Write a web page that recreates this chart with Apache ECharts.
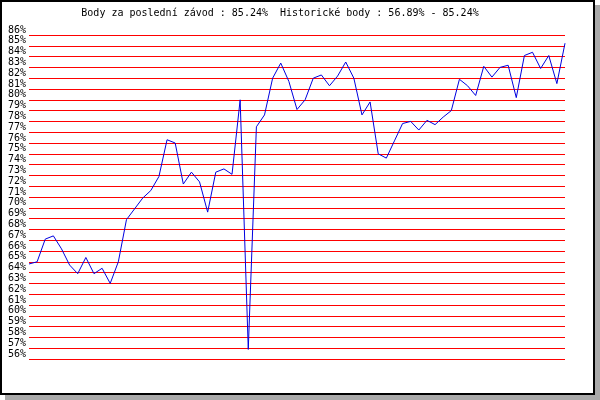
<!DOCTYPE html>
<html>
<head>
<meta charset="utf-8">
<script src="https://cdn.jsdelivr.net/npm/echarts@6/dist/echarts.min.js"></script>
<style>
html,body{margin:0;padding:0;background:#fff;}
#chart{width:600px;height:400px;}
</style>
</head>
<body>
<div id="chart"></div>
<script>
var titleText = 'Body za poslední závod : 85.24%  Historické body : 56.89% - 85.24%';
var yMin = 56;
var yMax = 86;
var yStep = 1;
var values = [
  64.8, 65.0, 67.1, 67.4, 66.2, 64.7, 63.9, 65.4, 63.9, 64.4,
  63.0, 65.0, 68.9, 69.9, 70.9, 71.6, 72.9, 76.3, 76.0, 72.2,
  73.3, 72.4, 69.6, 73.3, 73.6, 73.1, 80.0, 56.89, 77.5, 78.6,
  82.0, 83.4, 81.7, 79.1, 80.0, 82.0, 82.3, 81.3, 82.2, 83.5,
  82.0, 78.6, 79.8, 75.0, 74.6, 76.2, 77.8, 78.0, 77.2, 78.1,
  77.7, 78.4, 79.0, 81.9, 81.3, 80.4, 83.1, 82.1, 83.0, 83.2,
  80.2, 84.1, 84.4, 82.9, 84.1, 81.5, 85.24
];
var categories = values.map(function (v, i) { return String(i + 1); });

var chart = echarts.init(document.getElementById('chart'), null, {renderer: 'canvas'});
var mono = '"DejaVu Sans Mono", "Liberation Mono", monospace';
chart.setOption({
  animation: false,
  backgroundColor: '#ffffff',
  graphic: [
    {type: 'rect', z: -100, shape: {x: 5, y: 5, width: 595, height: 395}, style: {fill: '#a9a9a9'}, silent: true},
    {type: 'rect', z: -99, shape: {x: 1, y: 1, width: 593, height: 393}, style: {fill: '#ffffff', stroke: '#000000', lineWidth: 2}, silent: true},
    {type: 'text', z: 10, x: 280, y: 13, style: {text: titleText, font: '10px ' + mono, fill: '#000', textAlign: 'center', textVerticalAlign: 'middle'}, silent: true}
  ],
  grid: {left: 29, right: 35, top: 35, bottom: 41, containLabel: false, show: false},
  xAxis: {
    type: 'category',
    data: categories,
    boundaryGap: false,
    axisLine: {show: false},
    axisTick: {show: false},
    axisLabel: {show: false},
    splitLine: {show: false}
  },
  yAxis: {
    type: 'value',
    min: yMin,
    max: yMax,
    interval: yStep,
    axisLine: {show: false},
    axisTick: {show: false},
    axisLabel: {
      formatter: '{value}%',
      align: 'left',
      verticalAlign: 'bottom',
      margin: 21,
      color: '#000',
      fontFamily: mono,
      fontSize: 10,
      lineHeight: 10,
      padding: 0,
      showMinLabel: true,
      showMaxLabel: true,
      hideOverlap: false
    },
    splitLine: {show: true, showMinLine: true, showMaxLine: true, lineStyle: {color: '#ff0000', width: 1}}
  },
  series: [{
    type: 'line',
    data: values,
    showSymbol: false,
    symbol: 'none',
    lineStyle: {color: '#0000e0', width: 1},
    z: 5,
    markLine: {
      silent: true,
      symbol: 'none',
      label: {show: false},
      lineStyle: {color: '#ff0000', width: 1, type: 'solid'},
      data: [{yAxis: yMin}, {yAxis: yMax}]
    }
  }]
});
</script>
</body>
</html>
